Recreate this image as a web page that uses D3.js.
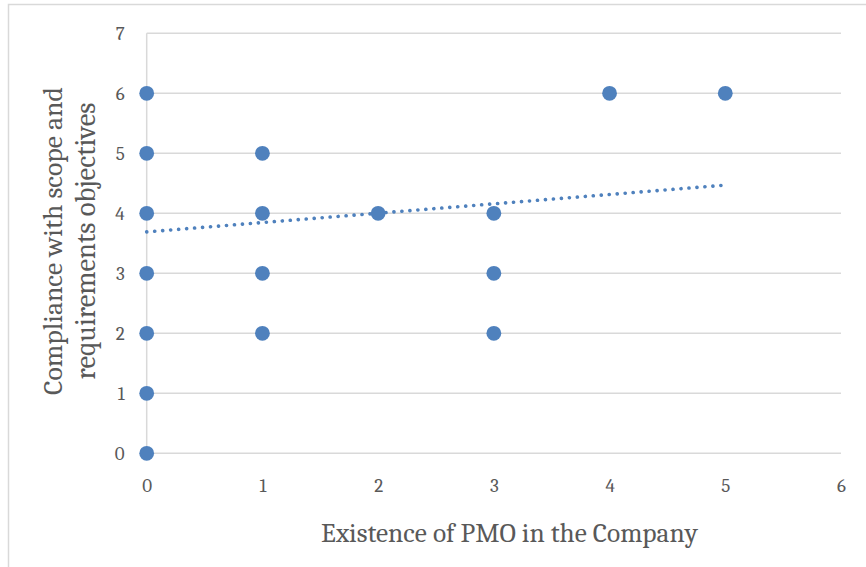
<!DOCTYPE html>
<html><head><meta charset="utf-8">
<script src="https://cdn.jsdelivr.net/npm/d3@7"></script>
<style>html,body{margin:0;padding:0;background:#fff;}svg{display:block;}</style>
</head><body>
<svg id="c" width="866" height="567"></svg>
<script>
const pmo =        [0,0,0,0,0,0,0,1,1,1,1,2,3,3,3,4,5];
const compliance = [0,1,2,3,4,5,6,2,3,4,5,4,2,3,4,6,6];
const trendX = [0, 5];
const trendY = [3.69, 4.47];
const xTicks = [0,1,2,3,4,5,6];
const yTicks = [0,1,2,3,4,5,6,7];
const xTitle = "Existence of PMO in the Company";
const yTitle = ["Compliance with scope and", "requirements objectives"];

const font = "Cambria, 'DejaVu Serif', serif";
const textCol = "#595959", gridCol = "#d9d9d9", blue = "#4f81bd";
const svg = d3.select("#c");
svg.append("rect").attr("x",8.5).attr("y",4.5).attr("width",900).attr("height",600)
  .attr("fill","none").attr("stroke",gridCol).attr("stroke-width",1.5);

const x = d3.scaleLinear().domain([0,6]).range([146.7,841]);
const y = d3.scaleLinear().domain([0,7]).range([453.3,33.3]);

// gridlines
svg.append("g").selectAll("line").data(yTicks).join("line")
  .attr("x1",x(0)).attr("x2",x(6)).attr("y1",d=>y(d)).attr("y2",d=>y(d))
  .attr("stroke",gridCol).attr("stroke-width",1.5);
svg.append("line").attr("x1",x(0)).attr("x2",x(0)).attr("y1",y(0)).attr("y2",y(7))
  .attr("stroke",gridCol).attr("stroke-width",1.5);

// axes
const xAxis = svg.append("g").attr("transform",`translate(0,${y(0)})`)
  .call(d3.axisBottom(x).tickValues(xTicks).tickSize(0).tickPadding(25).tickFormat(d3.format("d")));
const yAxis = svg.append("g").attr("transform",`translate(${x(0)},0)`)
  .call(d3.axisLeft(y).tickValues(yTicks).tickSize(0).tickPadding(22).tickFormat(d3.format("d")));
[xAxis,yAxis].forEach(g=>{
  g.select(".domain").remove();
  g.selectAll("text").attr("fill",textCol).style("font-family",font).style("font-size","19px");
});

// trendline
const line = d3.line().x(d=>x(d[0])).y(d=>y(d[1]));
svg.append("path").datum(trendX.map((v,i)=>[v,trendY[i]])).attr("d",line)
  .attr("fill","none").attr("stroke",blue).attr("stroke-width",3.6)
  .attr("stroke-linecap","round").attr("stroke-dasharray","0.1 7.9");

// points
svg.append("g").selectAll("circle").data(pmo.map((v,i)=>[v,compliance[i]])).join("circle")
  .attr("cx",d=>x(d[0])).attr("cy",d=>y(d[1])).attr("r",7.4).attr("fill",blue);

// titles
const xt = svg.append("text").attr("x",509.5).attr("y",542).attr("text-anchor","middle")
  .attr("fill",textCol).style("font-family",font).style("font-size","20px").text(xTitle);
const yt = svg.append("g").attr("transform","translate(0,241) rotate(-90)");
yTitle.forEach((t,i)=>{
  yt.append("text").attr("x",0).attr("y",i===0?62:95).attr("text-anchor","middle")
    .attr("fill",textCol).style("font-family",font).style("font-size","20px").text(t);
});
// fit widths to reference
function fit(sel, w){ const l = sel.node().getComputedTextLength(); const fs = parseFloat(sel.style("font-size")); sel.style("font-size",(fs*w/l)+"px"); }
fit(xt, 377);
fit(yt.select("text:nth-child(1)"), 308);
fit(yt.select("text:nth-child(2)"), 277);
</script>
</body></html>
